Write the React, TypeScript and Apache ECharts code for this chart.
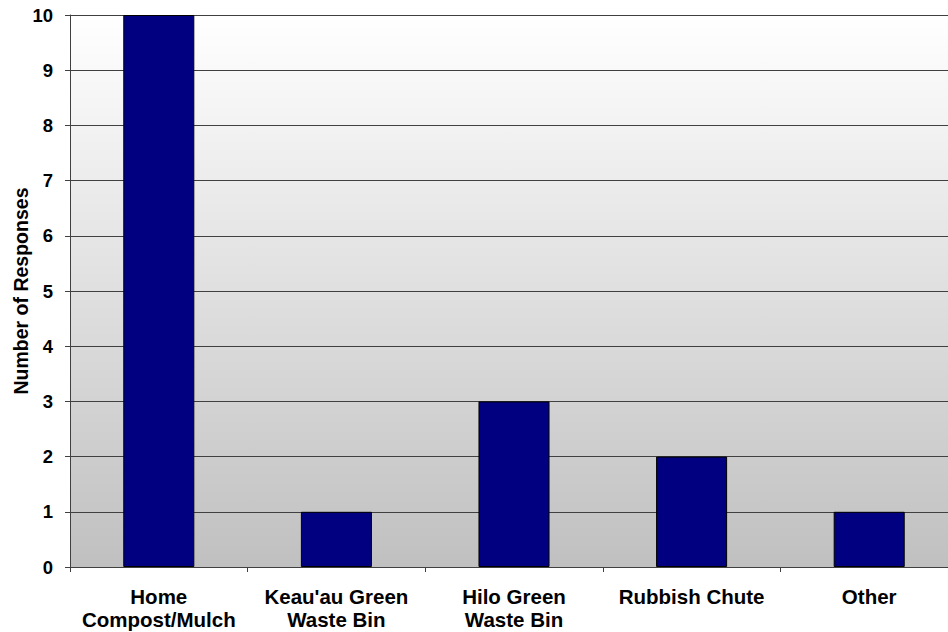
import React, { useEffect, useRef } from "react";
import * as echarts from "echarts";

const categories = ["Home\nCompost/Mulch", "Keau'au Green\nWaste Bin", "Hilo Green\nWaste Bin", "Rubbish Chute", "Other"];
const responses = [10, 1, 3, 2, 1];
const yTicks = [0, 1, 2, 3, 4, 5, 6, 7, 8, 9, 10];

export default function App() {
  const ref = useRef<HTMLDivElement>(null);
  useEffect(() => {
    const chart = echarts.init(ref.current!, null, { renderer: "svg" });
    const font = "'Liberation Sans', Arial, sans-serif";
    chart.setOption({
      animation: false,
      grid: {
        left: 70,
        top: 15,
        right: 2,
        bottom: 65,
        containLabel: false,
        outerBoundsMode: "none",
        show: true,
        borderWidth: 0,
        backgroundColor: new echarts.graphic.LinearGradient(0, 0, 0, 1, [
          { offset: 0, color: "#ffffff" },
          { offset: 1, color: "#c0c0c0" },
        ]),
      },
      xAxis: {
        type: "category",
        data: categories,
        axisLine: { show: true, lineStyle: { color: "#404040", width: 1 } },
        axisTick: { show: true, length: 5, lineStyle: { color: "#404040" } },
        axisLabel: {
          color: "#000",
          fontFamily: font,
          fontWeight: "bold",
          fontSize: 20.5,
          lineHeight: 23,
          margin: 18,
          interval: 0,
        },
      },
      yAxis: {
        type: "value",
        min: yTicks[0],
        max: yTicks[yTicks.length - 1],
        interval: 1,
        name: "Number of Responses",
        nameLocation: "middle",
        nameGap: 39,
        nameMoveOverlap: false,
        nameRotate: 90,
        nameTextStyle: { color: "#000", fontFamily: font, fontWeight: "bold", fontSize: 19.5 },
        axisLine: { show: true, lineStyle: { color: "#404040", width: 1 } },
        axisTick: { show: true, length: 5, lineStyle: { color: "#404040" } },
        axisLabel: { color: "#000", fontFamily: font, fontWeight: "bold", fontSize: 18.5, margin: 17 },
        splitLine: { show: true, lineStyle: { color: "#404040", width: 1 } },
      },
      series: [
        {
          type: "bar",
          data: responses,
          barWidth: "40%",
          itemStyle: { color: "#000080", borderColor: "#000", borderWidth: 1 },
        },
      ],
    });
    return () => chart.dispose();
  }, []);
  return (
    <div style={{ width: 948, height: 632, position: "absolute", left: 0, top: 0, overflow: "hidden" }}>
      <div ref={ref} style={{ width: 960, height: 632 }} />
    </div>
  );
}
